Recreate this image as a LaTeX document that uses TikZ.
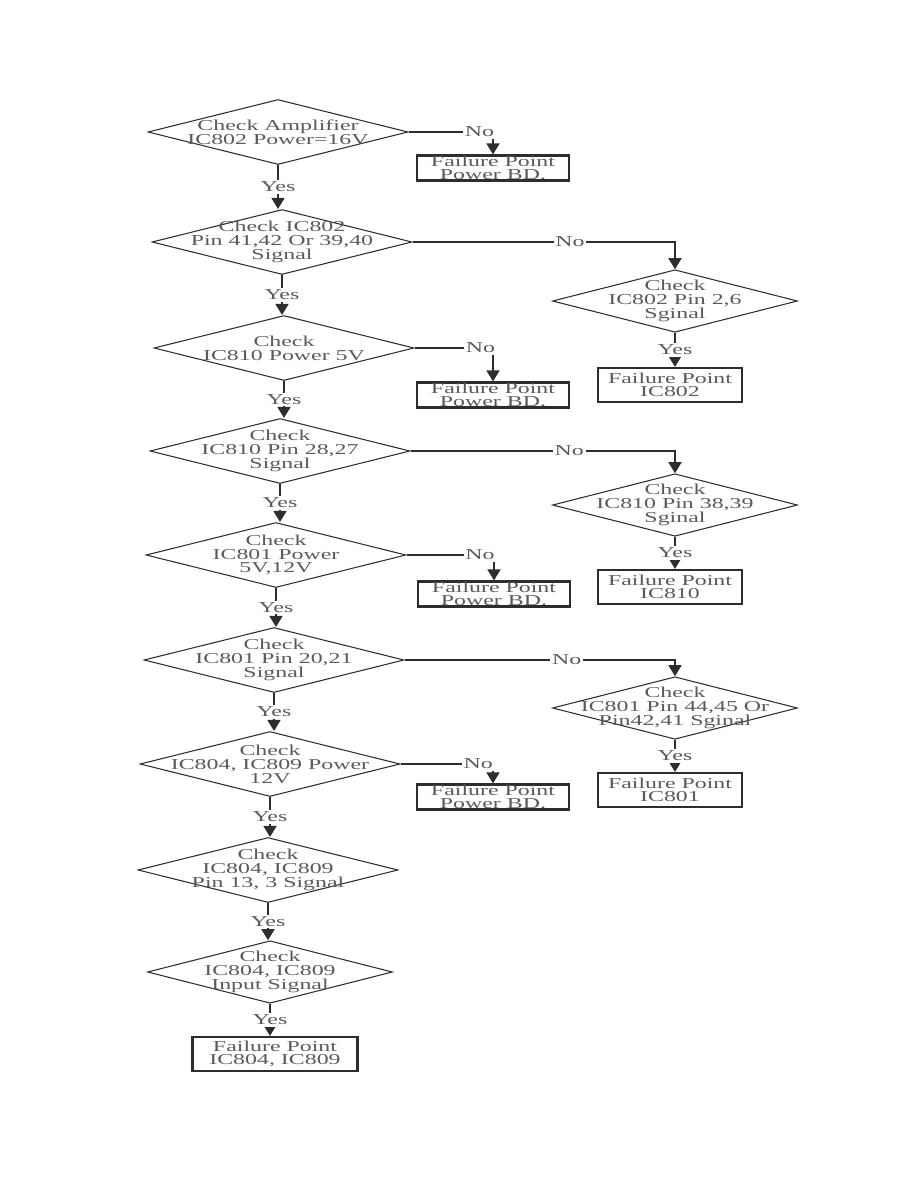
\documentclass[tikz,border=0pt]{standalone}
\usepackage{fontspec}
\setmainfont{Liberation Serif}[FakeStretch=1.58]
\usepackage{tikz}
\usetikzlibrary{arrows.meta,shapes.geometric}
\definecolor{linea}{RGB}{45,45,45}
\definecolor{gristexto}{RGB}{90,90,90}

\begin{document}
\begin{tikzpicture}[x=0.02cm, y=-0.02cm,
  texto/.style={font=\fontsize{8.6}{7.9}\selectfont, text=gristexto, align=center},
  rombo/.style={diamond, draw=linea, line width=0.6pt, minimum width=5.2cm,
    minimum height=1.3cm, inner sep=0pt},
  rombochico/.style={rombo, minimum width=4.9cm, minimum height=1.25cm},
  caja/.style={rectangle, draw=linea, line width=1.2pt, minimum width=3.04cm,
    minimum height=0.5cm, inner sep=0pt, align=center, text=gristexto,
    font=\fontsize{8.6}{7.3}\selectfont},
  cajafalla/.style={caja, minimum width=2.88cm, minimum height=0.68cm},
  flecha/.style={draw=linea, line width=0.8pt, -{Triangle[width=2.6mm,length=2.2mm]}},
  etiqueta/.style={texto, fill=white, inner sep=1pt}
]
\useasboundingbox (0,0) rectangle (918,1188);
\node[rombo, label={[texto]center:{Check Amplifier\\IC802 Power=16V}}] (d1) at (278,132) {};
\node[rombo, label={[texto]center:{Check IC802\\Pin 41,42 Or 39,40\\Signal}}] (d2) at (282,242) {};
\node[rombochico, label={[texto]center:{Check\\IC802 Pin 2,6\\Sginal}}] (d3) at (675,301) {};
\node[rombo, label={[texto]center:{Check\\IC810 Power 5V}}] (d4) at (284,348) {};
\node[rombo, label={[texto]center:{Check\\IC810 Pin 28,27\\Signal}}] (d5) at (280,451) {};
\node[rombochico, label={[texto]center:{Check\\IC810 Pin 38,39\\Sginal}}] (d6) at (675,505) {};
\node[rombo, label={[texto]center:{Check\\IC801 Power\\5V,12V}}] (d7) at (276,555) {};
\node[rombo, label={[texto]center:{Check\\IC801 Pin 20,21\\Signal}}] (d8) at (274,660) {};
\node[rombochico, label={[texto]center:{Check\\IC801 Pin 44,45 Or\\Pin42,41 Sginal}}] (d9) at (675,708) {};
\node[rombo, label={[texto]center:{Check\\IC804, IC809 Power\\12V}}] (d10) at (270,764) {};
\node[rombo, label={[texto]center:{Check\\IC804, IC809\\Pin 13, 3 Signal}}] (d11) at (268,870) {};
\node[rombochico, label={[texto]center:{Check\\IC804, IC809\\Input Signal}}] (d12) at (270,972) {};
\node[caja] (f1) at (493,168) {Failure Point\\Power BD.};
\node[cajafalla] (f2) at (670,385) {Failure Point\\IC802};
\node[caja] (f3) at (493,395) {Failure Point\\Power BD.};
\node[cajafalla] (f4) at (670,587) {Failure Point\\IC810};
\node[caja] (f5) at (494,594) {Failure Point\\Power BD.};
\node[cajafalla] (f6) at (670,790) {Failure Point\\IC801};
\node[caja] (f7) at (493,797) {Failure Point\\Power BD.};
\node[cajafalla, minimum width=3.3cm] (f8) at (275,1054) {Failure Point\\IC804, IC809};
\draw[flecha] (d1.south) -- (d1.south |- d2.north) node[midway, etiqueta] {Yes};
\draw[flecha] (d2.south) -- (d2.south |- d4.north) node[midway, etiqueta] {Yes};
\draw[flecha] (d4.south) -- (d4.south |- d5.north) node[midway, etiqueta] {Yes};
\draw[flecha] (d5.south) -- (d5.south |- d7.north) node[midway, etiqueta] {Yes};
\draw[flecha] (d7.south) -- (d7.south |- d8.north) node[midway, etiqueta] {Yes};
\draw[flecha] (d8.south) -- (d8.south |- d10.north) node[midway, etiqueta] {Yes};
\draw[flecha] (d10.south) -- (d10.south |- d11.north) node[midway, etiqueta] {Yes};
\draw[flecha] (d11.south) -- (d11.south |- d12.north) node[midway, etiqueta] {Yes};
\draw[flecha] (d12.south) -- (d12.south |- f8.north) node[midway, etiqueta] {Yes};
\draw[flecha] (d3.south) -- (d3.south |- f2.north) node[midway, etiqueta] {Yes};
\draw[flecha] (d6.south) -- (d6.south |- f4.north) node[midway, etiqueta] {Yes};
\draw[flecha] (d9.south) -- (d9.south |- f6.north) node[midway, etiqueta] {Yes};
\draw[flecha] (d1.east) -| (f1.north) node[pos=0.42, etiqueta] {No};
\draw[flecha] (d4.east) -| (f3.north) node[pos=0.42, etiqueta] {No};
\draw[flecha] (d7.east) -| (f5.north) node[pos=0.42, etiqueta] {No};
\draw[flecha] (d10.east) -| (f7.north) node[pos=0.42, etiqueta] {No};
\draw[flecha] (d2.east) -| (d3.north) node[pos=0.3, etiqueta] {No};
\draw[flecha] (d5.east) -| (d6.north) node[pos=0.3, etiqueta] {No};
\draw[flecha] (d8.east) -| (d9.north) node[pos=0.3, etiqueta] {No};
\end{tikzpicture}
\end{document}
